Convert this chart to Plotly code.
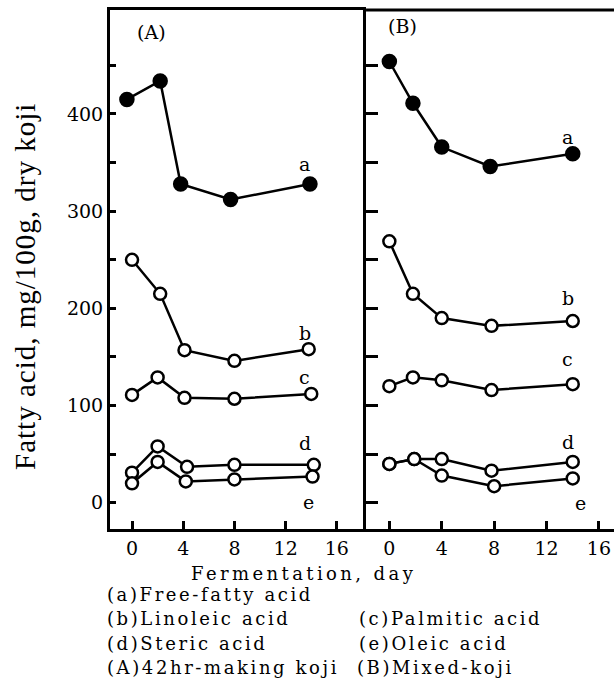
import plotly.graph_objects as go

# Panel A (42hr-making koji)
A_a_x = [-0.4, 2.2, 3.8, 7.7, 13.9]
A_a_y = [415, 434, 328, 312, 328]
A_b_x = [0, 2.2, 4.1, 8, 13.8]
A_b_y = [250, 215, 157, 146, 158]
A_c_x = [0, 2, 4.1, 8, 14]
A_c_y = [111, 129, 108, 107, 112]
A_d_x = [0, 2, 4.3, 8, 14.2]
A_d_y = [31, 58, 37, 39, 39]
A_e_x = [0, 2, 4.2, 8, 14.1]
A_e_y = [20, 42, 22, 24, 27]

# Panel B (Mixed-koji)
B_a_x = [0, 1.8, 4, 7.7, 14]
B_a_y = [454, 411, 366, 346, 359]
B_b_x = [0, 1.8, 4, 7.8, 14]
B_b_y = [269, 215, 190, 182, 187]
B_c_x = [0, 1.8, 4, 7.8, 14]
B_c_y = [120, 129, 126, 116, 122]
B_d_x = [0, 1.9, 4, 7.8, 14]
B_d_y = [40, 45, 45, 33, 42]
B_e_x = [0, 1.9, 4, 8, 14]
B_e_y = [40, 45, 28, 17, 25]

x_ticks = [0, 4, 8, 12, 16]
y_ticks = [0, 50, 100, 150, 200, 250, 300, 350, 400, 450]
y_ticktext = ["0", "", "100", "", "200", "", "300", "", "400", ""]

FONT = "DejaVu Serif"
fig = go.Figure()

def add_series(xs, ys, filled, xa, ya):
    fig.add_trace(go.Scatter(
        x=xs, y=ys, mode="lines+markers", xaxis=xa, yaxis=ya,
        line=dict(color="black", width=2.5),
        marker=dict(size=13 if filled else 12, symbol="circle",
                    color="black" if filled else "white",
                    line=dict(color="black", width=2.5)),
        showlegend=False, hoverinfo="x+y"))

for xs, ys, f in [(A_a_x, A_a_y, True), (A_b_x, A_b_y, False), (A_c_x, A_c_y, False),
                  (A_d_x, A_d_y, False), (A_e_x, A_e_y, False)]:
    add_series(xs, ys, f, "x", "y")
for xs, ys, f in [(B_a_x, B_a_y, True), (B_b_x, B_b_y, False), (B_c_x, B_c_y, False),
                  (B_d_x, B_d_y, False), (B_e_x, B_e_y, False)]:
    add_series(xs, ys, f, "x2", "y2")

anns = []
def lab(text, x, y, xref, yref, size=19, xanchor="center", textangle=0, family=FONT, align="center"):
    anns.append(dict(text=text, x=x, y=y, xref=xref, yref=yref, showarrow=False,
                     font=dict(family=family, size=size, color="black"), align=align,
                     xanchor=xanchor, yanchor="middle", textangle=textangle))

# series labels
for t, x, y in [("a", 13.5, 349), ("b", 13.5, 175), ("c", 13.5, 129), ("d", 13.5, 62), ("e", 13.8, 1)]:
    lab(t, x, y, "x", "y")
for t, x, y in [("a", 13.6, 376), ("b", 13.6, 211), ("c", 13.6, 148), ("d", 13.6, 63), ("e", 14.6, 0)]:
    lab(t, x, y, "x2", "y2")
lab("(A)", 1.5, 484, "x", "y")
lab("(B)", 1.0, 491, "x2", "y2")

# axis titles and legend text
lab("Fatty acid, mg/100g, dry koji", -0.168, 0.468, "paper", "paper", size=29,
    textangle=-90, family="Liberation Serif")
lab("Fermentation, day", 0.385, -0.085, "paper", "paper", size=18)
c1, c2 = -0.010, 0.490
rows = [-0.127, -0.173, -0.220, -0.266]
lab("(a)Free-fatty acid", c1, rows[0], "paper", "paper", size=18, xanchor="left", align="left")
lab("(b)Linoleic acid", c1, rows[1], "paper", "paper", size=18, xanchor="left", align="left")
lab("(c)Palmitic acid", c2, rows[1], "paper", "paper", size=18, xanchor="left", align="left")
lab("(d)Steric acid", c1, rows[2], "paper", "paper", size=18, xanchor="left", align="left")
lab("(e)Oleic acid", c2, rows[2], "paper", "paper", size=18, xanchor="left", align="left")
lab("(A)42hr-making koji", c1, rows[3], "paper", "paper", size=18, xanchor="left", align="left")
lab("(B)Mixed-koji", c2 - 0.004, rows[3], "paper", "paper", size=18, xanchor="left", align="left")

split = 0.508
common_x = dict(tickvals=x_ticks, ticks="inside", ticklen=8, tickwidth=2.5, tickcolor="black",
                showline=True, linecolor="black", linewidth=3, showgrid=False, zeroline=False,
                tickfont=dict(family=FONT, size=19, color="black"))
common_y = dict(tickvals=y_ticks, ticktext=y_ticktext, ticks="inside", tickwidth=2.5,
                tickcolor="black", showline=True, linecolor="black", linewidth=3,
                showgrid=False, zeroline=False, range=[-27, 507], mirror=False, side="left",
                tickfont=dict(family=FONT, size=19, color="black"))

fig.update_layout(
    width=614, height=679,
    margin=dict(l=110, r=0, t=10, b=150),
    paper_bgcolor="white", plot_bgcolor="white",
    xaxis=dict(domain=[0, split], range=[-1.72, 18.28], anchor="y", mirror=True, **common_x),
    xaxis2=dict(domain=[split, 1], range=[-1.78, 17.15], anchor="y2", mirror=False, **common_x),
    yaxis=dict(domain=[0, 1], anchor="x", ticklen=6, **common_y),
    yaxis2=dict(domain=[0, 1], anchor="x2", ticklen=12, showticklabels=False, **common_y),
    annotations=anns,
    shapes=[dict(type="line", xref="paper", yref="paper", x0=split, x1=1.0, y0=1, y1=1,
                 line=dict(color="black", width=3))],
)

post = """
var gd = document.getElementById('{plot_id}');
function spaceText(){
  document.querySelectorAll('text.annotation-text').forEach(function(t){
    var s = t.textContent || '';
    if (s.indexOf('Fatty') === 0) { t.style.letterSpacing = '1px'; }
    else if (s.indexOf('Fermentation') === 0) { t.style.letterSpacing = '3.4px'; }
    else if (s.charAt(0) === '(' && s.length > 4) { t.style.letterSpacing = '2.6px'; }
  });
}
spaceText();
if (gd && gd.on) { gd.on('plotly_afterplot', spaceText); }
"""

fig.write_html("out.html", post_script=post)
